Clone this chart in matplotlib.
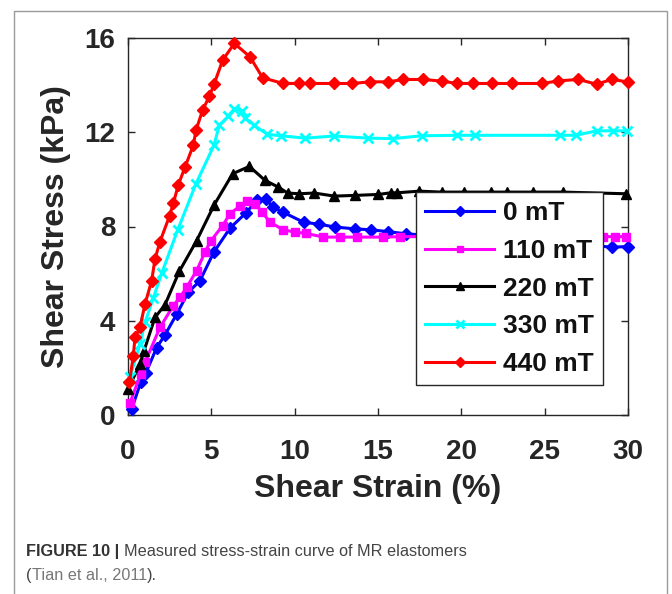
import matplotlib
matplotlib.use("Agg")
import matplotlib.pyplot as plt
from matplotlib.patches import Rectangle

# ---------------- data ----------------
labels = ["0 mT", "110 mT", "220 mT", "330 mT", "440 mT"]

strain_0 = [0.22, 0.76, 1.08, 1.72, 2.22, 2.92, 3.62, 4.32, 5.15, 6.12, 7.05, 7.75, 8.25, 8.72,
            9.32, 10.54, 11.45, 12.4, 13.6, 14.6, 15.62, 16.68, 18.5, 21.0, 24.0, 26.5, 29.02, 29.98]
stress_0 = [0.25, 1.38, 1.80, 2.86, 3.40, 4.28, 5.21, 5.70, 6.91, 7.93, 8.56, 9.12, 9.16, 8.82,
            8.60, 8.18, 8.10, 7.98, 7.90, 7.86, 7.78, 7.69, 7.60, 7.50, 7.40, 7.30, 7.12, 7.15]

strain_110 = [0.12, 0.76, 1.02, 1.92, 2.72, 3.12, 3.52, 4.12, 4.62, 4.95, 5.68, 6.12, 6.70, 7.15,
              7.62, 8.05, 8.52, 9.32, 10.02, 10.68, 11.72, 12.72, 13.72, 15.32, 16.32, 19.0, 22.0,
              25.0, 28.52, 29.22, 29.88]
stress_110 = [0.52, 1.73, 2.23, 3.72, 4.64, 4.99, 5.42, 6.13, 6.91, 7.37, 8.04, 8.54, 8.86, 9.10,
              8.97, 8.61, 8.18, 7.86, 7.76, 7.71, 7.55, 7.55, 7.55, 7.55, 7.57, 7.57, 7.57,
              7.57, 7.57, 7.57, 7.57]

strain_220 = [0.02, 0.72, 0.96, 1.62, 2.22, 3.08, 4.12, 5.18, 6.28, 7.28, 8.22, 9.02, 9.58, 10.26,
              11.18, 12.38, 13.62, 15.02, 15.76, 16.12, 17.48, 18.82, 20.18, 21.78, 22.72, 24.32,
              26.08, 29.86]
stress_220 = [1.10, 2.18, 2.72, 4.14, 4.68, 6.10, 7.40, 8.93, 10.24, 10.55, 9.96, 9.67, 9.42, 9.39,
              9.42, 9.29, 9.32, 9.36, 9.43, 9.43, 9.50, 9.46, 9.46, 9.46, 9.46, 9.46,
              9.46, 9.39]

strain_330 = [0.12, 0.72, 1.02, 1.52, 2.02, 2.98, 4.08, 5.16, 5.48, 6.02, 6.36, 6.86, 7.00, 7.56,
              8.36, 9.17, 10.64, 12.35, 14.40, 15.87, 17.62, 19.74, 20.82, 25.92, 26.86, 28.12,
              29.08, 29.95]
stress_330 = [1.62, 3.01, 3.93, 4.97, 6.01, 7.85, 9.82, 11.45, 12.30, 12.68, 12.98, 12.90, 12.62, 12.30,
              11.91, 11.85, 11.75, 11.84, 11.75, 11.73, 11.85, 11.87, 11.87, 11.87, 11.87, 12.06,
              12.06, 12.06]

strain_440 = [0.08, 0.32, 0.42, 0.72, 1.02, 1.42, 1.62, 1.92, 2.49, 2.72, 3.02, 3.42, 3.92, 4.08,
              4.48, 4.88, 5.16, 5.68, 6.38, 7.32, 8.08, 9.32, 10.26, 10.92, 12.38, 13.46, 14.52,
              15.62, 16.52, 17.72, 18.82, 19.76, 20.72, 21.82, 23.02, 24.86, 25.82, 27.02, 28.12,
              29.02, 29.98]
stress_440 = [1.38, 2.51, 3.29, 3.72, 4.71, 5.70, 6.62, 7.36, 8.44, 8.98, 9.77, 10.52, 11.45, 12.09,
              12.94, 13.53, 14.03, 15.06, 15.77, 15.20, 14.31, 14.07, 14.07, 14.07, 14.07, 14.07, 14.14,
              14.14, 14.24, 14.24, 14.17, 14.07, 14.07, 14.07, 14.07, 14.07, 14.18, 14.24, 14.04,
              14.24, 14.14]

x_ticks = [0, 5, 10, 15, 20, 25, 30]
y_ticks = [0, 4, 8, 12, 16]

# ---------------- figure ----------------
plt.rcParams['font.family'] = ['Liberation Sans', 'DejaVu Sans']
W, H, DPI = 672, 594, 100
fig = plt.figure(figsize=(W / DPI, H / DPI), dpi=DPI)
fig.patch.set_facecolor('white')

# outer frame of the figure panel
fig.patches.append(Rectangle((14 / W, -0.05), (667 - 14) / W, (594 - 11) / H + 0.05,
                             transform=fig.transFigure, fill=False, edgecolor='#9a9a9a',
                             linewidth=1.0))

ax = fig.add_axes([128 / W, 1 - 415 / H, 500 / W, 377 / H])

series = [
    (strain_0, stress_0, '#0000ff', 'D', 6.0),
    (strain_110, stress_110, '#ff00ff', 's', 6.0),
    (strain_220, stress_220, '#000000', '^', 6.5),
    (strain_330, stress_330, '#00ffff', 'x', 6.5),
    (strain_440, stress_440, '#ff0000', 'D', 6.0),
]
for (xs, ys, c, m, ms), lab in zip(series, labels):
    ax.plot(xs, ys, color=c, marker=m, markersize=ms, markerfacecolor=c, markeredgecolor=c,
            markeredgewidth=2.0 if m == 'x' else 1.0, linewidth=2.2, label=lab,
            clip_on=False, zorder=3)

ax.set_xlim(0, 30)
ax.set_ylim(0, 16)
ax.set_xticks(x_ticks)
ax.set_yticks(y_ticks)
ax.tick_params(direction='in', length=5, width=1, top=True, right=True,
               labelsize=20, colors='#262626', pad=9)
ax.tick_params(axis='x', pad=17)
for lbl in ax.get_xticklabels() + ax.get_yticklabels():
    lbl.set_fontweight('bold')
for s in ax.spines.values():
    s.set_color('#262626')
    s.set_linewidth(1.0)

ax.set_xlabel('Shear Strain (%)', fontsize=23, fontweight='bold', color='#262626', labelpad=7)
ax.set_ylabel('Shear Stress (kPa)', fontsize=23, fontweight='bold', color='#262626', labelpad=10)

leg = ax.legend(loc='upper left', bbox_to_anchor=(0.576, 0.5915), frameon=True, fancybox=False,
                shadow=False, numpoints=1, handlelength=2.6, handletextpad=0.35,
                labelspacing=0.52, borderpad=0.35, borderaxespad=0.0, markerscale=0.8,
                prop={'family': 'Liberation Sans', 'weight': 'bold', 'size': 19})
leg.get_frame().set_edgecolor('#262626')
leg.get_frame().set_linewidth(1.0)
leg.get_frame().set_alpha(1.0)
leg.set_zorder(5)
for t in leg.get_texts():
    t.set_color('#111111')

# ---------------- caption ----------------
fig.canvas.draw()
renderer = fig.canvas.get_renderer()


def chain(parts, x_px, y_px, size):
    x = x_px
    for txt, weight, color in parts:
        t = fig.text(x / W, 1 - y_px / H, txt, fontsize=size, fontweight=weight, color=color,
                     ha='left', va='baseline', family=['Liberation Sans', 'DejaVu Sans'])
        bb = t.get_window_extent(renderer=renderer)
        x = bb.x1


chain([('FIGURE 10 | ', 'bold', '#333333'),
       ('Measured stress-strain curve of MR elastomers', 'normal', '#444444')], 26, 556, 11.7)
chain([('(', 'normal', '#444444'), ('Tian et al., 2011', 'normal', '#777777'),
       (').', 'normal', '#444444')], 26, 580, 11.7)

fig.savefig('out.png', dpi=DPI, facecolor='white')
